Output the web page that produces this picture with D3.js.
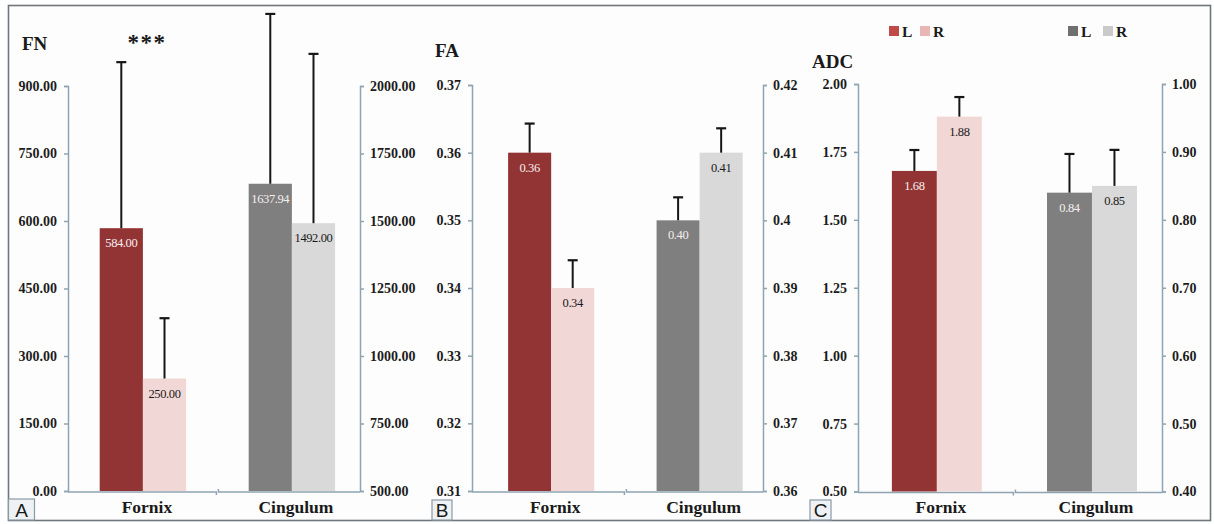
<!DOCTYPE html>
<html>
<head>
<meta charset="utf-8">
<script src="https://cdn.jsdelivr.net/npm/d3@7"></script>
<style>
  body { margin: 0; background: #ffffff; }
  svg { display: block; }
  text { font-family: "Liberation Serif", "Times New Roman", serif; }
  text.panel-letter { font-family: "Liberation Sans", Arial, sans-serif; }
</style>
</head>
<body>
<svg id="chart" width="1214" height="524"></svg>
<script>
// ---- data ----
const categories = ["Fornix", "Cingulum"];
const sides = ["L", "R"];

// FN: fibre number (Fornix on left axis, Cingulum on right axis)
const fnFornix = [584.00, 250.00];
const fnFornixSD = [369, 134];
const fnCingulum = [1637.94, 1492.00];
const fnCingulumSD = [629, 627];
const fnLeftTicks = [0, 150, 300, 450, 600, 750, 900];
const fnRightTicks = [500, 750, 1000, 1250, 1500, 1750, 2000];

// FA: fractional anisotropy
const faFornix = [0.36, 0.34];
const faFornixSD = [0.0043, 0.0041];
const faCingulum = [0.40, 0.41];
const faCingulumSD = [0.0034, 0.0036];
const faLeftTicks = [0.31, 0.32, 0.33, 0.34, 0.35, 0.36, 0.37];
const faRightTicks = [0.36, 0.37, 0.38, 0.39, 0.40, 0.41, 0.42];
const faRightTickLabels = ["0.36", "0.37", "0.38", "0.39", "0.4", "0.41", "0.42"];

// ADC: apparent diffusion coefficient
const adcFornix = [1.68, 1.88];
const adcFornixSD = [0.077, 0.072];
const adcCingulum = [0.84, 0.85];
const adcCingulumSD = [0.057, 0.053];
const adcLeftTicks = [0.50, 0.75, 1.00, 1.25, 1.50, 1.75, 2.00];
const adcRightTicks = [0.40, 0.50, 0.60, 0.70, 0.80, 0.90, 1.00];

const fnSignificance = "***";

// ---- styling ----
const fornixColors = ["#933434", "#f2d7d7"];
const cingulumColors = ["#7f7f7f", "#d9d9d9"];
const fornixLegendColors = ["#c04a4a", "#e9b6b6"];
const cingulumLegendColors = ["#707070", "#cacaca"];
const labelColors = ["#f6eeee", "#1a1a1a"];
const axisColor = "#8ea4b2";
const f2 = d3.format(".2f");

const svg = d3.select("#chart");

// outer frame
svg.append("rect")
  .attr("x", 8.5).attr("y", 5.5).attr("width", 1202).attr("height", 515)
  .attr("fill", "#fdfdfd").attr("stroke", "#6f767c").attr("stroke-width", 1.6);

const panels = [
  {
    letter: "A", title: "FN", titleX: 22, titleY: 50,
    x0: 68, x1: 360, yBottom: 491, yTop: 86, align: 0.56,
    letterBox: [8.5, 499, 26, 21],
    left:  { values: fnFornix, sd: fnFornixSD, domain: [0, 900], ticks: fnLeftTicks, labels: fnLeftTicks.map(f2) },
    right: { values: fnCingulum, sd: fnCingulumSD, domain: [500, 2000], ticks: fnRightTicks, labels: fnRightTicks.map(f2) },
    star: fnSignificance
  },
  {
    letter: "B", title: "FA", titleX: 435, titleY: 57,
    x0: 472, x1: 763, yBottom: 491, yTop: 85, align: 0.64,
    letterBox: [432, 500, 20, 20],
    left:  { values: faFornix, sd: faFornixSD, domain: [0.31, 0.37], ticks: faLeftTicks, labels: faLeftTicks.map(f2) },
    right: { values: faCingulum, sd: faCingulumSD, domain: [0.36, 0.42], ticks: faRightTicks, labels: faRightTickLabels }
  },
  {
    letter: "C", title: "ADC", titleX: 812, titleY: 68,
    x0: 858, x1: 1162, yBottom: 491.5, yTop: 84, align: 0.575,
    letterBox: [810, 500, 21, 20],
    left:  { values: adcFornix, sd: adcFornixSD, domain: [0.5, 2.0], ticks: adcLeftTicks, labels: adcLeftTicks.map(f2) },
    right: { values: adcCingulum, sd: adcCingulumSD, domain: [0.4, 1.0], ticks: adcRightTicks, labels: adcRightTicks.map(f2) },
    legend: { x: [889, 1068], gap: [31, 35] }
  }
];

panels.forEach(p => {
  const g = svg.append("g");

  const x = d3.scaleBand().domain(categories).range([p.x0, p.x1])
    .paddingInner(0.42).paddingOuter(0.19).align(p.align);
  const side = d3.scaleBand().domain(sides).range([0, x.bandwidth()]);
  const yL = d3.scaleLinear().domain(p.left.domain).range([p.yBottom, p.yTop]);
  const yR = d3.scaleLinear().domain(p.right.domain).range([p.yBottom, p.yTop]);

  const groups = [
    { cat: "Fornix", y: yL, values: p.left.values, sd: p.left.sd, colors: fornixColors },
    { cat: "Cingulum", y: yR, values: p.right.values, sd: p.right.sd, colors: cingulumColors }
  ];

  const breakX = (x("Fornix") + x.bandwidth() + x("Cingulum")) / 2;

  // category axis, split in two halves
  g.append("path")
    .attr("d", `M${p.x0},${p.yBottom + 1}H${breakX - 1}v3`)
    .attr("fill", "none").attr("stroke", axisColor).attr("stroke-width", 1.5);
  g.append("path")
    .attr("d", `M${breakX + 1},${p.yBottom - 2}v3H${p.x1}`)
    .attr("fill", "none").attr("stroke", axisColor).attr("stroke-width", 1.5);

  groups.forEach(gr => {
    const bx = x(gr.cat);
    // bars
    g.selectAll(null).data(sides).enter().append("rect")
      .attr("x", (s) => bx + side(s))
      .attr("y", (s, i) => gr.y(gr.values[i]))
      .attr("width", side.bandwidth())
      .attr("height", (s, i) => p.yBottom - gr.y(gr.values[i]))
      .attr("fill", (s, i) => gr.colors[i]);

    // error bars (upper only)
    sides.forEach((s, i) => {
      const cx = bx + side(s) + side.bandwidth() / 2;
      const yTopVal = gr.y(gr.values[i]);
      const yErr = gr.y(gr.values[i] + gr.sd[i]);
      g.append("line").attr("x1", cx).attr("x2", cx).attr("y1", yTopVal).attr("y2", yErr)
        .attr("stroke", "#161616").attr("stroke-width", 2);
      g.append("line").attr("x1", cx - 5).attr("x2", cx + 5).attr("y1", yErr).attr("y2", yErr)
        .attr("stroke", "#161616").attr("stroke-width", 2.2);
    });

    // value labels inside the bars
    g.selectAll(null).data(sides).enter().append("text")
      .attr("x", (s) => bx + side(s) + side.bandwidth() / 2)
      .attr("y", (s, i) => gr.y(gr.values[i]) + 19)
      .attr("text-anchor", "middle")
      .attr("font-size", 12.5)
      .attr("letter-spacing", -0.4)
      .attr("fill", (s, i) => labelColors[i])
      .text((s, i) => f2(gr.values[i]));

    // category label
    g.append("text")
      .attr("x", bx + x.bandwidth() / 2 + 4)
      .attr("y", 513)
      .attr("text-anchor", "middle")
      .attr("font-size", 17.5).attr("font-weight", "bold").attr("fill", "#1a1a1a")
      .text(gr.cat);
  });

  // value axes
  const styleAxis = (sel) => {
    sel.select(".domain").attr("stroke", axisColor).attr("stroke-width", 1.5);
    sel.selectAll(".tick line").attr("stroke", axisColor).attr("stroke-width", 1.5);
    sel.selectAll(".tick text")
      .attr("font-size", 14).attr("font-weight", "bold").attr("fill", "#1c1c1c");
  };
  g.append("g").attr("transform", `translate(${p.x0},0)`)
    .call(d3.axisLeft(yL).tickValues(p.left.ticks)
      .tickFormat((d, i) => p.left.labels[i]).tickSize(4).tickPadding(7))
    .call(styleAxis);
  g.append("g").attr("transform", `translate(${p.x1},0)`)
    .call(d3.axisRight(yR).tickValues(p.right.ticks)
      .tickFormat((d, i) => p.right.labels[i]).tickSize(4).tickPadding(6))
    .call(styleAxis);

  // measure title
  g.append("text").attr("x", p.titleX).attr("y", p.titleY)
    .attr("font-size", 19).attr("font-weight", "bold").attr("fill", "#1a1a1a")
    .text(p.title);

  // significance marker above Fornix
  if (p.star) {
    g.append("text")
      .attr("x", x("Fornix") + x.bandwidth() / 2 + 4).attr("y", 50)
      .attr("text-anchor", "middle")
      .attr("font-size", 23).attr("font-weight", "bold").attr("letter-spacing", 1.5)
      .attr("fill", "#1a1a1a")
      .text(p.star);
  }

  // legends
  if (p.legend) {
    const legendSets = [
      { colors: fornixLegendColors },
      { colors: cingulumLegendColors }
    ];
    legendSets.forEach((ls, k) => {
      const lx = p.legend.x[k];
      sides.forEach((s, i) => {
        const ox = lx + i * p.legend.gap[k];
        g.append("rect").attr("x", ox).attr("y", 26).attr("width", 10).attr("height", 10)
          .attr("fill", ls.colors[i]);
        g.append("text").attr("x", ox + 13).attr("y", 37)
          .attr("font-size", 15.5).attr("font-weight", "bold").attr("fill", "#1a1a1a")
          .text(s);
      });
    });
  }

  // panel letter
  const [bxL, byL, bwL, bhL] = p.letterBox;
  g.append("rect").attr("x", bxL).attr("y", byL).attr("width", bwL).attr("height", bhL)
    .attr("fill", "#eef2f4").attr("stroke", "#8a9aa5").attr("stroke-width", 1.2);
  g.append("text").attr("class", "panel-letter")
    .attr("x", bxL + bwL / 2).attr("y", byL + bhL - 3)
    .attr("text-anchor", "middle")
    .attr("font-size", 19).attr("fill", "#1a1a1a")
    .text(p.letter);
});
</script>
</body>
</html>
